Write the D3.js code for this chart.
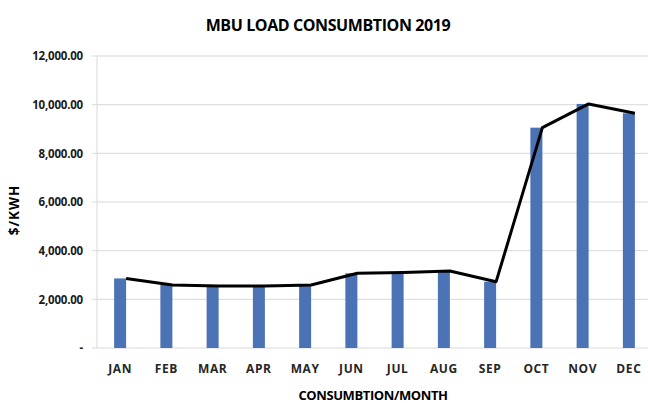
<!DOCTYPE html>
<html>
<head>
<meta charset="utf-8">
<script src="https://cdn.jsdelivr.net/npm/d3@7"></script>
<style>
  body { margin: 0; background: #fff; }
  svg { display: block; font-family: 'Open Sans', sans-serif; }
</style>
</head>
<body>
<div id="chart"></div>
<script>
const months = ['JAN', 'FEB', 'MAR', 'APR', 'MAY', 'JUN', 'JUL', 'AUG', 'SEP', 'OCT', 'NOV', 'DEC']
const consumption = [2860, 2590, 2550, 2550, 2590, 3070, 3100, 3165, 2725, 9055, 10030, 9645]
const yTicks = [0, 2000, 4000, 6000, 8000, 10000, 12000]

const width = 648
const height = 403
const margin = { top: 56, right: -4, bottom: 55, left: 97 }

const svg = d3.select('#chart').append('svg')
  .attr('width', width)
  .attr('height', height)

const x = d3.scaleBand()
  .domain(months)
  .range([margin.left, width - margin.right])

const y = d3.scaleLinear()
  .domain([0, 12000])
  .range([height - margin.bottom, margin.top])

const barW = 12

// gridlines
svg.append('g')
  .selectAll('line')
  .data(yTicks)
  .join('line')
  .attr('x1', margin.left - 5)
  .attr('x2', width)
  .attr('y1', d => y(d))
  .attr('y2', d => y(d))
  .attr('stroke', '#d9d9d9')
  .attr('stroke-width', 1)

// y axis line
svg.append('line')
  .attr('x1', margin.left).attr('x2', margin.left)
  .attr('y1', y(12000)).attr('y2', y(0))
  .attr('stroke', '#d9d9d9')

// y tick labels
const yAxis = d3.axisLeft(y)
  .tickValues(yTicks)
  .tickSize(0)
  .tickPadding(14)
  .tickFormat(d => d === 0 ? '-' : d3.format(',.2f')(d))

svg.append('g')
  .attr('transform', `translate(${margin.left},0)`)
  .call(yAxis)
  .call(g => g.select('.domain').remove())
  .selectAll('text')
  .attr('font-family', 'Open Sans, sans-serif')
  .attr('font-size', 11.5)
  .attr('font-weight', 700)
  .attr('fill', '#1a1a1a')
  .attr('letter-spacing', -0.2)

// bars
svg.append('g')
  .selectAll('rect')
  .data(consumption)
  .join('rect')
  .attr('x', (d, i) => x(months[i]) + x.bandwidth() / 2 - barW / 2)
  .attr('y', d => y(d))
  .attr('width', barW)
  .attr('height', d => y(0) - y(d))
  .attr('fill', '#4a72b5')

// line, vertices at right edge of bars
const line = d3.line()
  .x((d, i) => x(months[i]) + x.bandwidth() / 2 + barW / 2)
  .y(d => y(d))

svg.append('path')
  .datum(consumption)
  .attr('d', line)
  .attr('fill', 'none')
  .attr('stroke', '#000')
  .attr('stroke-width', 3)
  .attr('stroke-linejoin', 'round')

// x labels
const xAxis = d3.axisBottom(x).tickSize(0).tickPadding(16)
svg.append('g')
  .attr('transform', `translate(0,${y(0)})`)
  .call(xAxis)
  .call(g => g.select('.domain').remove())
  .selectAll('text')
  .attr('font-family', 'Open Sans, sans-serif')
  .attr('font-size', 12)
  .attr('font-weight', 700)
  .attr('fill', '#262626')
  .attr('letter-spacing', 0.6)

// title
svg.append('text')
  .attr('x', 328)
  .attr('y', 31)
  .attr('text-anchor', 'middle')
  .attr('font-size', 16)
  .attr('font-weight', 700)
  .attr('fill', '#000')
  .attr('letter-spacing', -0.4)
  .text('MBU LOAD CONSUMBTION 2019')

// axis titles
svg.append('text')
  .attr('x', 373)
  .attr('y', 400)
  .attr('text-anchor', 'middle')
  .attr('font-size', 13)
  .attr('font-weight', 700)
  .attr('fill', '#000')
  .attr('letter-spacing', -0.4)
  .text('CONSUMBTION/MONTH')

svg.append('text')
  .attr('transform', 'translate(19,210) rotate(-90)')
  .attr('text-anchor', 'middle')
  .attr('font-size', 13.5)
  .attr('font-weight', 700)
  .attr('fill', '#000')
  .attr('letter-spacing', 1)
  .text('$/KWH')
</script>
</body>
</html>
